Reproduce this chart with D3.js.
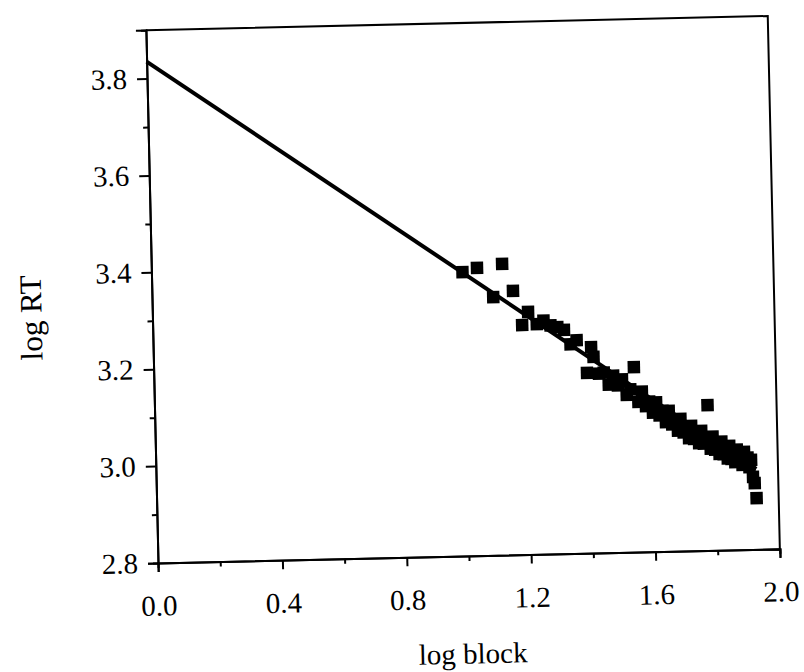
<!DOCTYPE html>
<html><head><meta charset="utf-8">
<script src="https://cdn.jsdelivr.net/npm/d3@7"></script>
<style>body{margin:0;background:#fff}svg{display:block}</style></head>
<body>
<svg id="chart" width="804" height="672"></svg>
<script>
// Data
const logBlock = [1.000,1.047,1.097,1.128,1.161,1.188,1.208,1.235,1.257,1.279,
  1.301,1.322,1.342,1.362,1.393,1.408,1.415,1.431,1.447,1.462,
  1.477,1.491,1.505,1.519,1.531,1.544,1.556,1.568,1.580,1.591,
  1.602,1.613,1.623,1.633,1.643,1.653,1.663,1.672,1.681,1.690,
  1.699,1.708,1.716,1.724,1.732,1.740,1.748,1.756,1.763,1.771,
  1.778,1.785,1.792,1.799,1.806,1.813,1.820,1.826,1.833,1.839,
  1.845,1.851,1.857,1.863,1.869,1.875,1.881,1.886,1.892,1.898,
  1.903,1.908,1.914,1.919,1.924,1.929];
const logRT = [3.386,3.394,3.333,3.401,3.345,3.274,3.301,3.275,3.282,3.272,
  3.268,3.262,3.232,3.240,3.172,3.225,3.205,3.170,3.172,3.147,
  3.165,3.145,3.157,3.125,3.136,3.182,3.110,3.131,3.101,3.110,
  3.087,3.108,3.081,3.090,3.067,3.090,3.062,3.071,3.049,3.073,
  3.045,3.055,3.033,3.058,3.031,3.042,3.022,3.047,3.021,3.032,
  3.100,3.010,3.035,3.008,3.020,2.999,3.024,2.998,3.009,2.989,
  3.015,2.988,3.001,2.981,3.007,2.982,2.994,2.975,3.002,2.976,
  2.990,2.970,2.985,2.950,2.937,2.906];
const fitX = [0.0, 1.93];
const fitY = [3.835, 2.966];
const xTicks = [0.0,0.4,0.8,1.2,1.6,2.0];
const xMinor = [0.2,0.6,1.0,1.4,1.8];
const yTicks = [2.8,3.0,3.2,3.4,3.6,3.8];
const yMinor = [2.9,3.1,3.3,3.5,3.7];
const xTitle = "log block";
const yTitle = "log RT";

const svg = d3.select("#chart");
const FONT = "'Liberation Serif','Times New Roman',serif";
const x = d3.scaleLinear().domain([0,2]).range([158,780]);
const y = d3.scaleLinear().domain([2.8,3.9]).range([563,30]);

// scanned page is slightly tilted
const g = svg.append("g").attr("transform","rotate(-1.3,158,563)");

// frame (top & right)
g.append("path")
  .attr("d", `M${x(0)},${y(3.9)}H${x(2)}V${y(2.8)}`)
  .attr("fill","none").attr("stroke","#000").attr("stroke-width",2);

const xa = g.append("g").attr("transform",`translate(0,${y(2.8)})`)
  .call(d3.axisBottom(x).tickValues(xTicks).tickSize(9).tickPadding(23).tickFormat(d3.format(".1f")));
const xm = g.append("g").attr("transform",`translate(0,${y(2.8)})`)
  .call(d3.axisBottom(x).tickValues(xMinor).tickSize(5).tickFormat(""));
const ya = g.append("g").attr("transform",`translate(${x(0)},0)`)
  .call(d3.axisLeft(y).tickValues(yTicks).tickSize(10).tickPadding(10).tickFormat(d3.format(".1f")));
const ym = g.append("g").attr("transform",`translate(${x(0)},0)`)
  .call(d3.axisLeft(y).tickValues(yMinor).tickSize(5).tickFormat(""));

[xa,xm,ya,ym].forEach(a=>{
  a.select(".domain").attr("stroke","#000").attr("stroke-width",2);
  a.selectAll(".tick line").attr("stroke","#000").attr("stroke-width",2);
  a.selectAll("text").attr("font-family",FONT).attr("font-size",29).attr("fill","#000");
});

// fit line
g.append("line")
  .attr("x1",x(fitX[0])).attr("y1",y(fitY[0]))
  .attr("x2",x(fitX[1])).attr("y2",y(fitY[1]))
  .attr("stroke","#000").attr("stroke-width",4);

// points
const S = 12.5;
g.selectAll("rect.pt").data(logBlock).join("rect").attr("class","pt")
  .attr("x",(d)=>x(d)-S/2).attr("y",(d,i)=>y(logRT[i])-S/2)
  .attr("width",S).attr("height",S).attr("fill","#000");

// titles
g.append("text").attr("x",471).attr("y",664).attr("text-anchor","middle")
  .attr("dominant-baseline","middle").attr("font-family",FONT).attr("font-size",29).text(xTitle);
g.append("text").attr("transform","translate(40,315) rotate(-90)").attr("text-anchor","middle")
  .attr("dominant-baseline","middle").attr("font-family",FONT).attr("font-size",31).text(yTitle);
</script>
</body></html>
